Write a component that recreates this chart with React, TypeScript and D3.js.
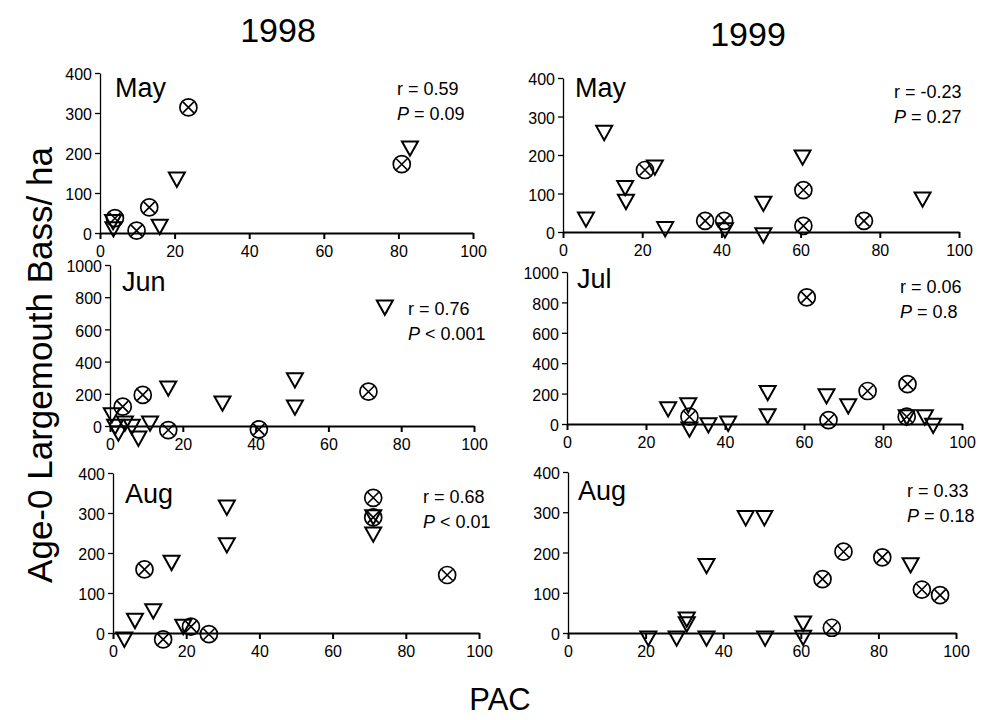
import { useRef, useEffect } from 'react';
import * as d3 from 'd3';

type Pt = [number, number];

const years = ['1998', '1999'];
const months = ['May', 'May', 'Jun', 'Jul', 'Aug', 'Aug'];
const yMaxes = [400, 400, 1000, 1000, 400, 400];
const yTickSteps = [100, 100, 200, 200, 100, 100];
const xTicks = [0, 20, 40, 60, 80, 100];
const rLabels = ['r = 0.59', 'r = -0.23', 'r = 0.76', 'r = 0.06', 'r = 0.68', 'r = 0.33'];
const pLabels = ['= 0.09', '= 0.27', '< 0.001', '= 0.8', '< 0.01', '= 0.18'];

// PAC (%), fish per ha
const may98Circles: Pt[] = [[4, 37], [9.8, 6], [13.2, 64], [23.7, 314], [80.9, 172]];
const may98Triangles: Pt[] = [[3.5, 28], [3.6, 10], [16, 16], [20.6, 134], [83.1, 212]];

const may99Circles: Pt[] = [[20.7, 161], [35.9, 29], [40.7, 29], [60.7, 109], [60.7, 16], [76, 29]];
const may99Triangles: Pt[] = [[5.8, 33], [10.4, 258], [15.7, 115], [15.9, 79], [23.2, 168], [25.8, 8],
  [40.9, 5], [50.6, 74], [50.6, -8], [60.5, 194], [90.8, 85]];

const jun98Circles: Pt[] = [[3.5, 120], [9, 193], [16, -25], [40.9, -21], [71, 213]];
const jun98Triangles: Pt[] = [[0.5, 68], [1.4, -4], [2.3, -45], [4.1, 17], [6, -4], [7.8, -77], [11, 17],
  [16, 234], [30.9, 141], [50.8, 286], [50.8, 116], [75.5, 737]];

const jul99Circles: Pt[] = [[31, 48], [60.7, 833], [66.2, 26], [76.1, 217], [86.2, 262], [86, 48]];
const jul99Triangles: Pt[] = [[25.6, 99], [30.7, 125], [31, -35], [35.8, -7], [40.8, 4], [50.8, 206],
  [50.8, 53], [65.7, 184], [71.2, 118], [86, 45], [90.6, 45], [92.7, -10]];

const aug98Circles: Pt[] = [[8.6, 159], [13.7, -16], [21.3, 16], [26.2, -3], [71.1, 338], [71.1, 289], [91.3, 145]];
const aug98Triangles: Pt[] = [[3.1, -16], [6, 31], [11, 55], [16, 176], [19.2, 16], [31.1, 314], [31.1, 220],
  [71.1, 290], [71.1, 247]];

const aug99Circles: Pt[] = [[65.6, 134], [68, 13], [71, 202], [81, 188], [91.2, 108], [95.9, 94]];
const aug99Triangles: Pt[] = [[20.7, -13], [28, -13], [30.6, 34], [30.6, 22], [35.7, -13], [35.7, 167],
  [45.8, 286], [50.6, 286], [50.8, -13], [60.6, 24], [60.6, -11], [88.3, 169]];

const circleSets = [may98Circles, may99Circles, jun98Circles, jul99Circles, aug98Circles, aug99Circles];
const triangleSets = [may98Triangles, may99Triangles, jun98Triangles, jul99Triangles, aug98Triangles, aug99Triangles];

// pixel layout of each panel: x0, x1, bottom, top, month label (x, y), stats (x, y)
const layout = [
  { x0: 100, x1: 473, y0: 233, y1: 73, mx: 115, my: 97, sx: 397, sy: 95 },
  { x0: 563, x1: 959, y0: 232, y1: 78, mx: 575, my: 97, sx: 894, sy: 98 },
  { x0: 110, x1: 474, y0: 426, y1: 265, mx: 122, my: 291, sx: 408, sy: 315 },
  { x0: 567, x1: 962, y0: 424, y1: 272, mx: 577, my: 288, sx: 900, sy: 293 },
  { x0: 113, x1: 479, y0: 633, y1: 473, mx: 125, my: 503, sx: 423, sy: 503 },
  { x0: 568, x1: 956, y0: 633, y1: 472, mx: 578, my: 500, sx: 907, sy: 497 },
];

const FONT = '"Liberation Sans", Arial, Helvetica, sans-serif';

const App = () => {
  const ref = useRef<SVGSVGElement>(null);

  useEffect(() => {
    const svg = d3.select(ref.current);
    svg.selectAll('*').remove();
    svg.attr('font-family', FONT);

    layout.forEach((L, i) => {
      const x = d3.scaleLinear().domain([0, 100]).range([L.x0, L.x1]);
      const y = d3.scaleLinear().domain([0, yMaxes[i]]).range([L.y0, L.y1]);
      const g = svg.append('g');

      const yAxis = g.append('g')
        .attr('transform', `translate(${L.x0},0)`)
        .call(d3.axisLeft(y).tickValues(d3.range(0, yMaxes[i] + 1, yTickSteps[i]))
          .tickFormat(d3.format('d')).tickSize(5).tickSizeOuter(0).tickPadding(3));
      yAxis.selectAll('path,line').attr('stroke', '#000').attr('stroke-width', 1.3);
      yAxis.selectAll('text').attr('font-size', 16).attr('font-family', FONT).attr('fill', '#000')
        .attr('dy', '0.42em');

      const xAxis = g.append('g')
        .attr('transform', `translate(0,${L.y0})`)
        .call(d3.axisBottom(x).tickValues(xTicks).tickSize(6).tickSizeOuter(0).tickPadding(7));
      xAxis.selectAll('path,line').attr('stroke', '#000').attr('stroke-width', 2);
      xAxis.selectAll('text').attr('font-size', 16).attr('font-family', FONT).attr('fill', '#000');

      g.append('text')
        .attr('x', L.mx).attr('y', L.my)
        .attr('font-size', 27)
        .text(months[i]);

      g.append('text')
        .attr('x', L.sx).attr('y', L.sy)
        .attr('font-size', 18)
        .text(rLabels[i]);
      const p = g.append('text')
        .attr('x', L.sx).attr('y', L.sy + 25)
        .attr('font-size', 18);
      p.append('tspan').attr('font-style', 'italic').text('P');
      p.append('tspan').text(' ' + pLabels[i]);

      const circ = g.selectAll('g.circ')
        .data(circleSets[i])
        .enter().append('g')
        .attr('transform', d => `translate(${x(d[0])},${y(d[1])})`)
        .attr('fill', 'none')
        .attr('stroke', '#000');
      circ.append('circle').attr('r', 8.5).attr('stroke-width', 1.7);
      circ.append('path').attr('d', 'M-5.5,-5.5L5.5,5.5M-5.5,5.5L5.5,-5.5').attr('stroke-width', 1.6);

      g.selectAll('path.tri')
        .data(triangleSets[i])
        .enter().append('path')
        .attr('class', 'tri')
        .attr('transform', d => `translate(${x(d[0])},${y(d[1])})`)
        .attr('d', 'M-8,-6.8L8,-6.8L0,7.5Z')
        .attr('fill', 'none')
        .attr('stroke', '#000')
        .attr('stroke-width', 2)
        .attr('stroke-linejoin', 'miter');
    });

    svg.selectAll('text.year')
      .data(years)
      .enter().append('text')
      .attr('class', 'year')
      .attr('x', (d, i) => (i === 0 ? 278 : 748))
      .attr('y', (d, i) => (i === 0 ? 42 : 46))
      .attr('text-anchor', 'middle')
      .attr('font-size', 34)
      .text(d => d);

    svg.append('text')
      .attr('transform', 'translate(52,365) rotate(-90)')
      .attr('text-anchor', 'middle')
      .attr('font-size', 35)
      .text('Age-0 Largemouth Bass/ ha');

    svg.append('text')
      .attr('x', 500).attr('y', 710)
      .attr('text-anchor', 'middle')
      .attr('font-size', 31)
      .text('PAC');
  }, []);

  return (
    <svg ref={ref} width={984} height={720}
      style={{ position: 'absolute', left: 0, top: 0, background: '#fff' }} />
  );
};

export default App;
